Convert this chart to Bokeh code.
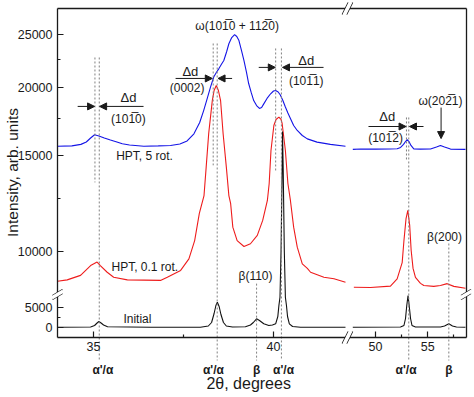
import math
from bokeh.plotting import figure
from bokeh.models import (Range1d, FixedTicker, Label, Arrow, NormalHead, PolyAnnotation,
                          LinearAxis)
from bokeh.embed import file_html
from bokeh.resources import INLINE

# ---------------- data: 2theta (degrees) and intensity (arb. units) ----------------
# HPT, 5 rot. (blue)
hpt5_left_2t = [34.00, 34.40, 34.65, 34.80, 34.92, 35.03, 35.15, 35.30, 35.47, 35.65,
                35.80, 36.00, 36.40, 36.80, 37.14, 37.40, 37.60, 37.79, 37.95, 38.06,
                38.16, 38.25, 38.34, 38.42, 38.48, 38.55, 38.62, 38.70, 38.76, 38.84,
                38.92, 38.98, 39.04, 39.11, 39.18, 39.25, 39.31, 39.38, 39.45, 39.53,
                39.61, 39.67, 39.73, 39.82, 39.92, 40.00, 40.06, 40.13, 40.19, 40.26,
                40.33, 40.40, 40.47, 40.56, 40.66, 40.80, 40.94, 41.21, 41.58, 42.00]
hpt5_left_int = [15580, 15600, 15700, 15860, 16130, 16350, 16270, 16130, 15990, 15860,
                 15740, 15660, 15580, 15600, 15630, 15730, 15930, 16420, 17220, 18110,
                 19060, 19990, 20870, 21310, 21600, 22000, 22370, 23240, 24010, 24650,
                 24950, 24760, 24340, 23340, 22370, 21270, 20300, 19550, 18890, 18500,
                 18270, 18340, 18630, 19060, 19440, 19670, 19710, 19590, 19340, 18890,
                 18380, 17920, 17510, 17000, 16650, 16300, 16070, 15850, 15700, 15580]
hpt5_right_2t = [47.83, 48.60, 50.00, 51.40, 52.07, 52.40, 52.68, 52.87, 53.03, 53.20,
                 53.39, 53.66, 54.30, 55.26, 55.83, 56.21, 56.60, 57.17, 58.60]
hpt5_right_int = [15370, 15400, 15390, 15400, 15410, 15500, 15700, 15890, 16010, 15890,
                  15630, 15400, 15390, 15400, 15530, 15630, 15530, 15390, 15370]

# HPT, 0.1 rot. (red)
hpt01_left_2t = [34.00, 34.27, 34.64, 34.92, 35.10, 35.19, 35.38, 35.56, 35.94, 36.86,
                 37.05, 37.42, 37.65, 37.81, 37.94, 38.07, 38.13, 38.20, 38.30, 38.35,
                 38.41, 38.47, 38.53, 38.60, 38.69, 38.76, 38.81, 38.87, 38.99, 39.18,
                 39.36, 39.55, 39.70, 39.83, 39.88, 39.93, 40.01, 40.07, 40.15, 40.21,
                 40.24, 40.33, 40.40, 40.47, 40.56, 40.66, 40.80, 40.94, 41.03, 41.40,
                 41.68, 42.00]
hpt01_left_int = [8810, 8860, 9030, 9410, 9550, 9410, 9150, 8960, 8860, 8840,
                  8960, 9220, 9680, 10460, 11730, 12650, 14260, 16440, 18890, 19710,
                  20130, 19710, 18890, 16440, 14260, 12650, 12220, 11070, 10460, 10200,
                  10320, 10690, 11390, 12390, 13310, 15300, 17000, 17440, 17610, 17440,
                  17150, 15300, 13310, 12390, 11070, 10170, 9480, 9300, 9150, 8960,
                  8900, 8770]
hpt01_right_2t = [47.93, 49.52, 51.43, 52.07, 52.55, 52.72, 52.92, 53.09, 53.27, 53.41,
                  53.59, 53.82, 54.30, 54.62, 55.57, 56.21, 56.85, 57.49, 58.60]
hpt01_right_int = [8590, 8580, 8630, 8900, 9530, 10460, 11480, 11880, 11150, 10030,
                   9300, 8950, 8730, 8650, 8620, 8650, 8720, 8620, 8550]

# Initial (black)
init_left_2t = [34.00, 34.92, 35.03, 35.10, 35.15, 35.21, 35.28, 35.39, 36.58, 37.97,
                38.19, 38.28, 38.35, 38.40, 38.44, 38.49, 38.54, 38.61, 38.69, 38.86,
                39.22, 39.36, 39.44, 39.53, 39.61, 39.73, 39.87, 39.97, 40.06, 40.12,
                40.15, 40.18, 40.21, 40.24, 40.25, 40.27, 40.30, 40.33, 40.36, 40.39,
                40.44, 40.53, 40.75, 42.00]
init_left_int = [50, 125, 500, 1125, 1500, 1125, 625, 175, 50, 75,
                 375, 1250, 3500, 5500, 6325, 5250, 3250, 1250, 375, 125,
                 175, 625, 1250, 2175, 1750, 925, 500, 625, 925, 2750,
                 5500, 7575, 10030, 14060, 16580, 14060, 10030, 7575, 5500, 2750,
                 925, 250, 75, 50]
init_right_2t = [47.83, 52.39, 52.72, 52.87, 52.99, 53.11, 53.22, 53.35, 53.49, 53.82,
                 56.21, 56.60, 57.01, 57.36, 57.74, 58.60]
init_right_int = [50, 125, 500, 2250, 5500, 8000, 5500, 2250, 500, 125,
                  125, 375, 925, 375, 125, 50]

# ticks
y_major = [0, 5000, 10000, 15000, 20000, 25000]
y_minor = [2500, 12500, 17500, 22500]
x_major = [35, 40, 50, 55]
x_minor = [37.5, 52.5, 57.5]

# reference lines (2theta, top intensity, bottom intensity or None = down to phase label)
ref_lines = [(35.04, 22660, 13370), (35.16, 22660, None),
             (38.325, 24040, 14370), (38.436, 24040, None),
             (40.06, 23540, 14060), (40.22, 23540, None),
             (52.96, 17590, 14670), (53.18, 17590, None),
             (39.53, 8720, None), (57.01, 10330, None)]
phase_labels = [("α'/α", 35.26), ("α'/α", 38.33), ("β", 39.53),
                ("α'/α", 40.28), ("α'/α", 52.92), ("β", 57.01)]
# Δd arrows (2theta start, 2theta end, intensity)
dd_arrows = [(34.56, 35.03, 18430), (36.39, 35.17, 18430),
             (37.28, 38.30, 20740), (38.85, 38.46, 20740),
             (39.59, 40.05, 21730), (41.39, 40.25, 21730),
             (49.33, 52.92, 16930), (54.59, 53.25, 16930)]
texts = [("ω(101\u03050 + 112\u03050)", 38.99, 25830, "center", "12px"),
         ("Δd", 37.69, 21360, "center", "13px"),
         ("(0002)", 37.60, 19960, "center", "12px"),
         ("Δd", 40.91, 22370, "center", "13px"),
         ("(101\u03051)", 40.91, 20480, "center", "12px"),
         ("Δd", 35.97, 19130, "center", "13px"),
         ("(101\u03050)", 35.97, 17440, "center", "12px"),
         ("Δd", 51.12, 17660, "center", "13px"),
         ("(101\u03052)", 50.96, 16160, "center", "12px"),
         ("ω(202\u03051)", 56.21, 18890, "center", "12px"),
         ("β(110)", 39.50, 9000, "center", "12px"),
         ("β(200)", 56.60, 10640, "center", "12px"),
         ("HPT, 5 rot.", 35.63, 14940, "left", "12px"),
         ("HPT, 0.1 rot.", 35.50, 9348, "left", "12px"),
         ("Initial", 35.83, 2250, "left", "12px")]

# ---------------- broken-axis transforms (data -> drawing coordinates) ----------------
LIN_TOP = 8300.0          # linear part below, logarithmic part above
X_LEFT_END, X_RIGHT_START = 42.0, 47.5


def X(t):
    if t <= 45:
        return (t - 34.0) * 36.0
    return 318.0 + (t - 50.0) * 10.46


def Y(v):
    if v <= LIN_TOP:
        return 10.0 + v / 250.0
    return 86.3 + 545.3 * (math.log10(v) - 4.0)


XR = 408.5   # right edge of plot box
YT = 329.0   # top edge of plot box

FONT = "Liberation Sans"
INK = "#1a1a1a"

p = figure(width=474, height=397, x_range=Range1d(-57, 417), y_range=Range1d(-60, 337),
           output_backend="svg", toolbar_location=None,
           min_border_left=0, min_border_right=0, min_border_top=0, min_border_bottom=0,
           x_axis_location=None, y_axis_location=None)
p.xgrid.visible = False
p.ygrid.visible = False
p.outline_line_color = None
p.background_fill_color = "white"
p.border_fill_color = "white"


def style_axis(ax, ticker=None, overrides=None):
    ax.major_tick_in = 6
    ax.major_tick_out = 0
    ax.minor_tick_in = 3
    ax.minor_tick_out = 0
    ax.axis_line_color = INK
    ax.axis_line_width = 1.3
    ax.major_tick_line_color = INK
    ax.minor_tick_line_color = INK
    ax.major_tick_line_width = 1.2
    ax.minor_tick_line_width = 1.2
    ax.major_label_text_font = FONT
    ax.major_label_text_font_size = "12.5px"
    ax.major_label_text_color = INK
    ax.major_label_standoff = 4
    if ticker is not None:
        ax.ticker = ticker
    if overrides is not None:
        ax.major_label_overrides = overrides


xt = [round(X(t), 3) for t in x_major]
xaxis = LinearAxis(fixed_location=0, bounds=(0, XR))
style_axis(xaxis, FixedTicker(ticks=xt, minor_ticks=[round(X(t), 3) for t in x_minor]),
           {k: f"{t:g}" for k, t in zip(xt, x_major)})
p.add_layout(xaxis, "below")

yt = [round(Y(v), 3) for v in y_major]
yaxis = LinearAxis(fixed_location=0, bounds=(0, YT))
style_axis(yaxis, FixedTicker(ticks=yt, minor_ticks=[round(Y(v), 3) for v in y_minor]),
           {k: f"{v:d}" for k, v in zip(yt, y_major)})
yaxis.major_label_standoff = 5
p.add_layout(yaxis, "left")

top_axis = LinearAxis(fixed_location=YT, bounds=(0, XR))
style_axis(top_axis, FixedTicker(ticks=[], minor_ticks=[]))
p.add_layout(top_axis, "above")
right_axis = LinearAxis(fixed_location=XR, bounds=(0, YT))
style_axis(right_axis, FixedTicker(ticks=[], minor_ticks=[]))
p.add_layout(right_axis, "right")

# curves
BLUE, RED, BLACK = "#1414e6", "#ee1c1c", "#111111"
for xs, ys, c in [(hpt5_left_2t, hpt5_left_int, BLUE), (hpt5_right_2t, hpt5_right_int, BLUE),
                  (hpt01_left_2t, hpt01_left_int, RED), (hpt01_right_2t, hpt01_right_int, RED),
                  (init_left_2t, init_left_int, BLACK), (init_right_2t, init_right_int, BLACK)]:
    p.line([X(t) for t in xs], [Y(v) for v in ys], line_color=c, line_width=1.1)

# dashed reference lines
BELOW = -23.0
p.segment(x0=[X(t) for t, _, _ in ref_lines], y0=[Y(top) for _, top, _ in ref_lines],
          x1=[X(t) for t, _, _ in ref_lines],
          y1=[BELOW if bot is None else Y(bot) for _, _, bot in ref_lines],
          line_color="#808080", line_width=1, line_dash="2 2")

for txt, t in phase_labels:
    p.add_layout(Label(x=X(t), y=-32, text=txt, text_align="center", text_baseline="middle",
                       text_font=FONT, text_font_size="12px", text_font_style="bold",
                       text_color=INK))

for t0, t1, v in dd_arrows:
    p.add_layout(Arrow(end=NormalHead(size=7, fill_color=INK, line_color=INK, line_width=1),
                       x_start=X(t0), y_start=Y(v), x_end=X(t1), y_end=Y(v),
                       line_color=INK, line_width=1))
# ω(20-21) pointer
p.add_layout(Arrow(end=NormalHead(size=7, fill_color=INK, line_color=INK, line_width=1),
                   x_start=X(56.27), y_start=Y(18340), x_end=X(56.27), y_end=Y(16090),
                   line_color=INK, line_width=1))

for txt, t, v, al, fs in texts:
    p.add_layout(Label(x=X(t), y=Y(v), text=txt, text_align=al, text_baseline="middle",
                       text_font=FONT, text_font_size=fs, text_color=INK))

# axis titles
p.add_layout(Label(x=X(39.31), y=-46, text="2θ, degrees", text_align="center",
                   text_baseline="middle", text_font=FONT, text_font_size="16px",
                   text_color=INK))
p.add_layout(Label(x=-45, y=165, text="Intensity, arb. units", angle=math.pi / 2,
                   text_align="center", text_baseline="middle", text_font=FONT,
                   text_font_size="15.5px", text_color=INK))

# axis-break marks
yb = Y(LIN_TOP) - 0.2
xb = (X(X_LEFT_END) + X(X_RIGHT_START)) / 2
for cx in (0.0, XR):
    p.add_layout(PolyAnnotation(xs=[cx - 5, cx + 5, cx + 5, cx - 5],
                                ys=[yb - 5, yb + 1, yb + 5, yb - 1],
                                fill_color="white", fill_alpha=1, line_alpha=0,
                                level="overlay"))
    p.segment(x0=[cx - 5, cx - 5], y0=[yb - 5, yb - 1], x1=[cx + 5, cx + 5],
              y1=[yb + 1, yb + 5], line_color=INK, line_width=1.2, level="overlay")
for cy in (0.0, YT):
    p.add_layout(PolyAnnotation(xs=[xb - 5, xb + 1, xb + 5, xb - 1],
                                ys=[cy - 6, cy + 6, cy + 6, cy - 6],
                                fill_color="white", fill_alpha=1, line_alpha=0,
                                level="overlay"))
    p.segment(x0=[xb - 5.2, xb - 0.8], y0=[cy - 6, cy - 6], x1=[xb + 0.8, xb + 5.2],
              y1=[cy + 6, cy + 6], line_color=INK, line_width=1.2, level="overlay")

open("out.html", "w").write(file_html(p, INLINE))
